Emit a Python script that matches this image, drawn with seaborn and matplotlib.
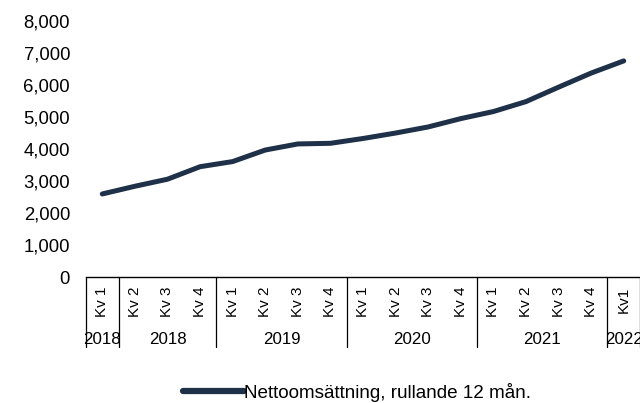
import matplotlib
matplotlib.use("Agg")
import matplotlib.pyplot as plt
import matplotlib.transforms as mtransforms
from matplotlib.ticker import FuncFormatter
import seaborn as sns
import pandas as pd

quarters = ["Kv 1", "Kv 2", "Kv 3", "Kv 4",
            "Kv 1", "Kv 2", "Kv 3", "Kv 4",
            "Kv 1", "Kv 2", "Kv 3", "Kv 4",
            "Kv 1", "Kv 2", "Kv 3", "Kv 4",
            "Kv1"]
year_groups = ["2018", "2018", "2019", "2020", "2021", "2022"]
group_sizes = [1, 3, 4, 4, 4, 1]
net_sales = [2590, 2830, 3050, 3440, 3600, 3960, 4150, 4170,
             4320, 4490, 4680, 4940, 5160, 5470, 5920, 6360, 6740]
series_name = "Nettoomsättning, rullande 12 mån."

sns.set_theme(style="white")
plt.rcParams["font.family"] = ["Liberation Sans", "DejaVu Sans"]
plt.rcParams["text.color"] = "#000000"

df = pd.DataFrame({"pos": list(range(len(quarters))), "value": net_sales,
                   "series": series_name})

fig = plt.figure(figsize=(6.4, 4.03), dpi=100)
ax = fig.add_axes([86 / 640, 1 - 277 / 403, (640 - 86) / 640, (277 - 20.5) / 403])

color = "#1e3148"
sns.lineplot(data=df, x="pos", y="value", hue="series", palette=[color],
             linewidth=3.6, ax=ax, legend=True,
             solid_capstyle="round")

ax.set_xlim(-0.5, len(quarters) - 0.5)
ax.set_ylim(0, 8000)
ax.set_yticks(range(0, 8001, 1000))
ax.yaxis.set_major_formatter(FuncFormatter(lambda v, p: f"{int(v):,}"))
ax.tick_params(axis="y", length=0, pad=11.5, labelsize=13.3, labelcolor="#000000")
ax.set_xticks(range(len(quarters)))
ax.set_xticklabels(quarters, rotation=90, fontsize=11)
ax.tick_params(axis="x", length=0, pad=7, labelcolor="#000000")
for lab in ax.get_xticklabels():
    lab.set_verticalalignment("top")
ax.set_xlabel("")
ax.set_ylabel("")

for s in ["top", "right", "left"]:
    ax.spines[s].set_visible(False)
ax.spines["bottom"].set_color("#000000")
ax.spines["bottom"].set_linewidth(1.0)

trans = mtransforms.blended_transform_factory(ax.transData, ax.transAxes)
line_bottom = -(347 - 277) / (277 - 20.5)
label_y = -(340 - 277) / (277 - 20.5)
start = 0
bounds = [-0.5]
for yr, n in zip(year_groups, group_sizes):
    center = start + (n - 1) / 2
    ax.text(center, label_y, yr, transform=trans, ha="center", va="center",
            fontsize=12.2, color="#000000", clip_on=False)
    start += n
    bounds.append(start - 0.5)
for b in bounds:
    ax.plot([b, b], [0, line_bottom], transform=trans, color="#000000",
            linewidth=0.9, clip_on=False)

handles, labels = ax.get_legend_handles_labels()
ax.get_legend().remove()
leg = fig.legend(handles, labels, loc="center", bbox_to_anchor=(357 / 640, 1 - 392 / 403),
                 frameon=False, fontsize=13.6, handlelength=3.2, handletextpad=0.0,
                 labelcolor="#000000")
for h in leg.legend_handles:
    h.set_linewidth(4.5)

fig.savefig("out.png", dpi=100)
